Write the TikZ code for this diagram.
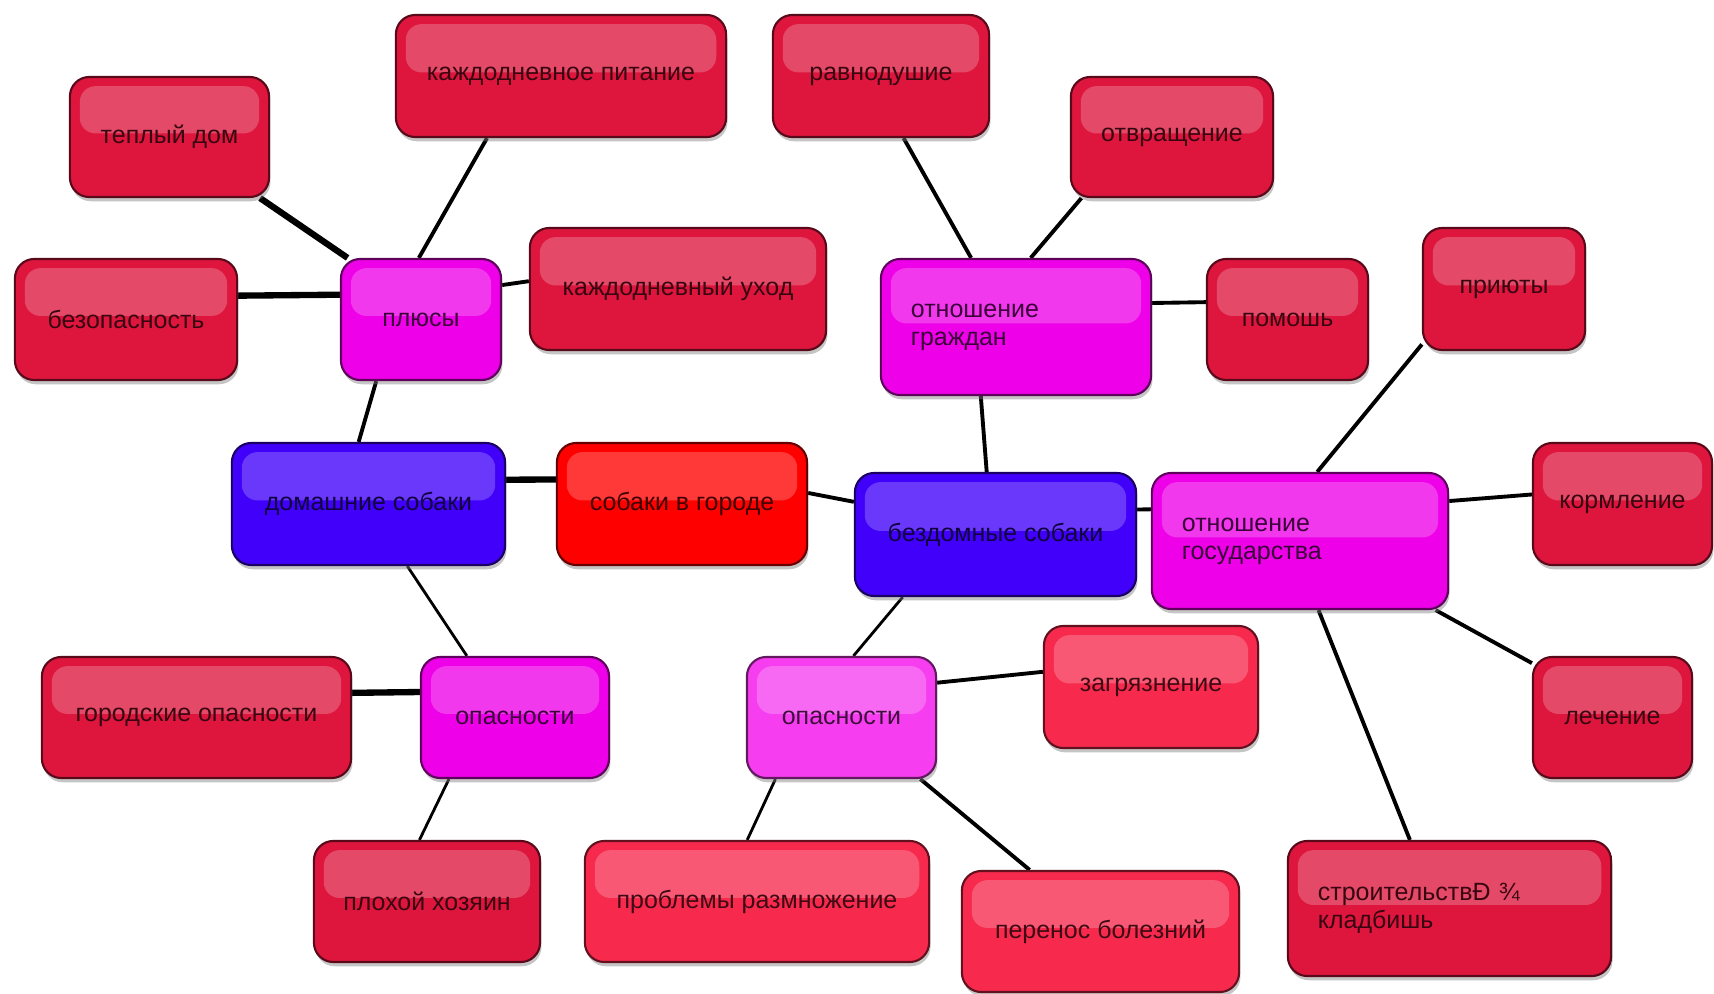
\documentclass[tikz,border=0pt]{standalone}
\usepackage{fontspec}
\setmainfont{Liberation Sans}
\usetikzlibrary{shadows,backgrounds}
\definecolor{leafred}{RGB}{222,22,62}
\definecolor{leafpink}{RGB}{247,42,78}
\definecolor{hubmag}{RGB}{238,0,232}
\definecolor{hubpink}{RGB}{246,62,240}
\definecolor{rootblue}{RGB}{64,0,250}
\definecolor{rootred}{RGB}{255,0,0}

\begin{document}
\begin{tikzpicture}[x=0.01cm,y=-0.01cm,
  bubble/.style={draw=#1!40!black,line width=0.6pt,fill=#1,rounded corners=5.5pt,inner sep=0pt,
    text=#1!25!black,font=\fontsize{7.1}{8}\selectfont,
    drop shadow={shadow xshift=0.4pt,shadow yshift=-1.2pt,opacity=0.45},
    path picture={\fill[white,opacity=0.22,rounded corners=4.5pt]
      ([shift={(2.8pt,-2.6pt)}]path picture bounding box.north west) rectangle
      ([shift={(-2.8pt,1pt)}]path picture bounding box.east);}},
  twoline/.style={align=left,text width=#1},
  link/.style={line width=1.1pt},
  thicklink/.style={line width=1.8pt},
  thinlink/.style={line width=0.8pt}]
\useasboundingbox (0,0) rectangle (1714,994);
\node[bubble=leafred,minimum width=1.99cm,minimum height=1.2cm](warm) at (169.5,137) {теплый дом};
\node[bubble=leafred,minimum width=3.30cm,minimum height=1.22cm](food) at (561,76) {каждодневное питание};
\node[bubble=leafred,minimum width=2.16cm,minimum height=1.22cm](indiff) at (881,76) {равнодушие};
\node[bubble=leafred,minimum width=2.02cm,minimum height=1.2cm](disgust) at (1172,137) {отвращение};
\node[bubble=leafred,minimum width=2.22cm,minimum height=1.21cm](safety) at (126,319.5) {безопасность};
\node[bubble=hubmag,minimum width=1.60cm,minimum height=1.21cm](plus) at (421,319.5) {плюсы};
\node[bubble=leafred,minimum width=2.96cm,minimum height=1.22cm](care) at (678,289) {каждодневный уход};
\node[bubble=hubmag,twoline=2.1cm,minimum width=2.70cm,minimum height=1.36cm](citizens) at (1016,327)
	{отношение\\граждан};
\node[bubble=leafred,minimum width=1.61cm,minimum height=1.21cm](help) at (1287.5,319.5) {помошь};
\node[bubble=leafred,minimum width=1.62cm,minimum height=1.22cm](shelters) at (1504,289) {приюты};
\node[bubble=rootblue,minimum width=2.73cm,minimum height=1.22cm](home) at (368.5,504) {домашние собаки};
\node[bubble=rootred,minimum width=2.50cm,minimum height=1.22cm](city) at (682,504) {собаки в городе};
\node[bubble=rootblue,minimum width=2.81cm,minimum height=1.23cm](stray) at (995.5,534.5) {бездомные собаки};
\node[bubble=hubmag,twoline=2.36cm,minimum width=2.96cm,minimum height=1.36cm](state) at (1300,541)
	{отношение\\государства};
\node[bubble=leafred,minimum width=1.79cm,minimum height=1.22cm](feeding) at (1622.5,504) {кормление};
\node[bubble=leafred,minimum width=3.09cm,minimum height=1.21cm](urban) at (196.5,717.5) {городские опасности};
\node[bubble=hubmag,minimum width=1.88cm,minimum height=1.21cm](dangL) at (515,717.5) {опасности};
\node[bubble=hubpink,minimum width=1.89cm,minimum height=1.21cm](dangM) at (841.5,717.5) {опасности};
\node[bubble=leafpink,minimum width=2.14cm,minimum height=1.22cm](pollution) at (1151,687) {загрязнение};
\node[bubble=leafred,minimum width=1.59cm,minimum height=1.21cm](treatment) at (1612.5,717.5) {лечение};
\node[bubble=leafred,minimum width=2.26cm,minimum height=1.21cm](owner) at (427,901.5) {плохой хозяин};
\node[bubble=leafpink,minimum width=3.44cm,minimum height=1.21cm](breeding) at (757,901.5) {проблемы размножение};
\node[bubble=leafpink,minimum width=2.77cm,minimum height=1.21cm](disease) at (1100.5,931.5) {перенос болезний};
\node[bubble=leafred,twoline=2.63cm,minimum width=3.23cm,minimum height=1.35cm](cemetery) at (1449.5,908.5)
	{строительствÐ ¾\\кладбишь};
\begin{pgfonlayer}{background}
\fill[white] (0,0) rectangle (1714,994);
\draw[thicklink] (warm.326) -- (plus.140);
\draw[link] (food.220) -- (plus.92);
\draw[thicklink] (safety.12) -- (plus.163);
\draw[link] (care.177) -- (plus.23);
\draw[link] (plus.234) -- (home.99);
\draw[thicklink] (home.10) -- (city.169);
\draw[link] (city.5) -- (stray.167);
\draw[thinlink] (home.302) -- (dangL.128);
\draw[thicklink] (urban.9) -- (dangL.165);
\draw[thinlink] (dangL.223) -- (owner.97);
\draw[link] (stray.98) -- (citizens.243);
\draw[link] (indiff.290) -- (citizens.123);
\draw[link] (disgust.214) -- (citizens.78);
\draw[link] (help.168) -- (citizens.10);
\draw[link] (stray.10) -- (state.168);
\draw[link] (shelters.214) -- (state.76);
\draw[link] (feeding.174) -- (state.15);
\draw[link] (treatment.146) -- (state.333);
\draw[link] (cemetery.120) -- (state.285);
\draw[thinlink] (stray.214) -- (dangM.79);
\draw[link] (pollution.172) -- (dangM.20);
\draw[thinlink] (dangM.223) -- (breeding.99);
\draw[link] (dangM.322) -- (disease.139);
\end{pgfonlayer}
\end{tikzpicture}
\end{document}
